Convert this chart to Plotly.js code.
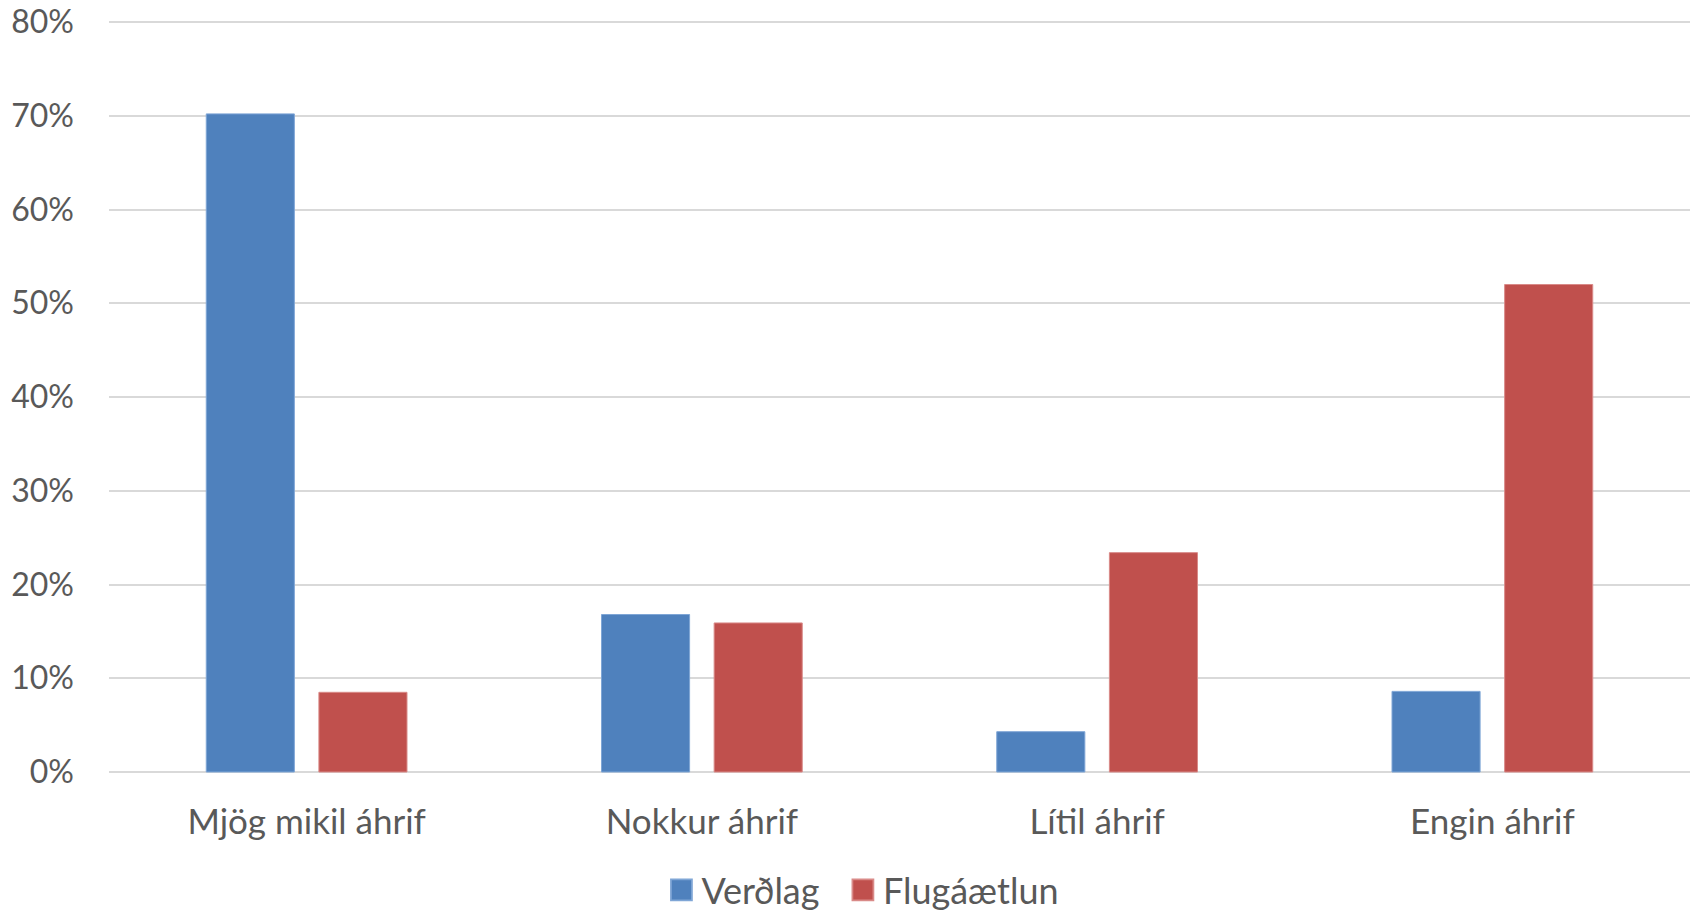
<!DOCTYPE html>
<html>
<head>
<meta charset="utf-8">
<script src="https://cdn.plot.ly/plotly-3.0.1.min.js"></script>
<style>html,body{margin:0;padding:0;background:#fff;}#chart{width:1696px;height:911px;}</style>
</head>
<body>
<div id="chart"></div>
<script>
var categories = ["Mjög mikil áhrif", "Nokkur áhrif", "Lítil áhrif", "Engin áhrif"];
var seriesNames = ["Verðlag", "Flugáætlun"];
var verdlag = [0.702, 0.168, 0.043, 0.086];
var flugaaetlun = [0.085, 0.159, 0.234, 0.520];
var yTickVals = [0, 0.1, 0.2, 0.3, 0.4, 0.5, 0.6, 0.7, 0.8];
var yTickText = ["0%", "10%", "20%", "30%", "40%", "50%", "60%", "70%", "80%"];

var fontFam = "Lato, 'Open Sans', sans-serif";
var textColor = "#595959";

var traces = [
  {type: "bar", name: seriesNames[0], x: categories, y: verdlag, legend: "legend",
   marker: {color: "#4f81bd", line: {color: "#7fa6d6", width: 1}}, hoverinfo: "none"},
  {type: "bar", name: seriesNames[1], x: categories, y: flugaaetlun, legend: "legend2",
   marker: {color: "#c0504d", line: {color: "#d98a88", width: 1}}, hoverinfo: "none"}
];

var legendFont = {family: fontFam, size: 36, color: textColor};

var layout = {
  width: 1696, height: 911,
  margin: {l: 109, r: 6, t: 19, b: 136},
  paper_bgcolor: "#fff", plot_bgcolor: "#fff",
  barmode: "group", bargap: 0.43, bargroupgap: 0.218,
  font: {family: fontFam, color: textColor, size: 32},
  showlegend: true,
  legend: {orientation: "h", xref: "container", x: 0.390, xanchor: "left", yref: "container", y: 0.023, yanchor: "middle",
           font: legendFont, itemwidth: 30, bgcolor: "rgba(0,0,0,0)"},
  legend2: {orientation: "h", xref: "container", x: 0.497, xanchor: "left", yref: "container", y: 0.023, yanchor: "middle",
           font: legendFont, itemwidth: 30, bgcolor: "rgba(0,0,0,0)"},
  xaxis: {type: "category", showgrid: false, zeroline: false, showline: false, ticks: "", automargin: false,
          tickfont: {family: fontFam, size: 35, color: textColor}, ticklabelstandoff: 23},
  yaxis: {range: [-0.0032, 0.8032], tickvals: yTickVals, ticktext: yTickText, showgrid: true, automargin: false,
          gridcolor: "#d9d9d9", gridwidth: 2, zeroline: false, showline: false, ticks: "",
          tickfont: {family: fontFam, size: 32, color: textColor}, ticklabelstandoff: 34}
};

function enlargeSwatches() {
  document.querySelectorAll(".legendpoints path").forEach(function (p) {
    if (p.getAttribute("data-scaled")) return;
    var t = p.getAttribute("transform") || "";
    p.setAttribute("transform", t + " scale(1.75)");
    p.setAttribute("data-scaled", "1");
  });
}

Plotly.newPlot("chart", traces, layout, {displayModeBar: false, staticPlot: true}).then(enlargeSwatches);
</script>
</body>
</html>
